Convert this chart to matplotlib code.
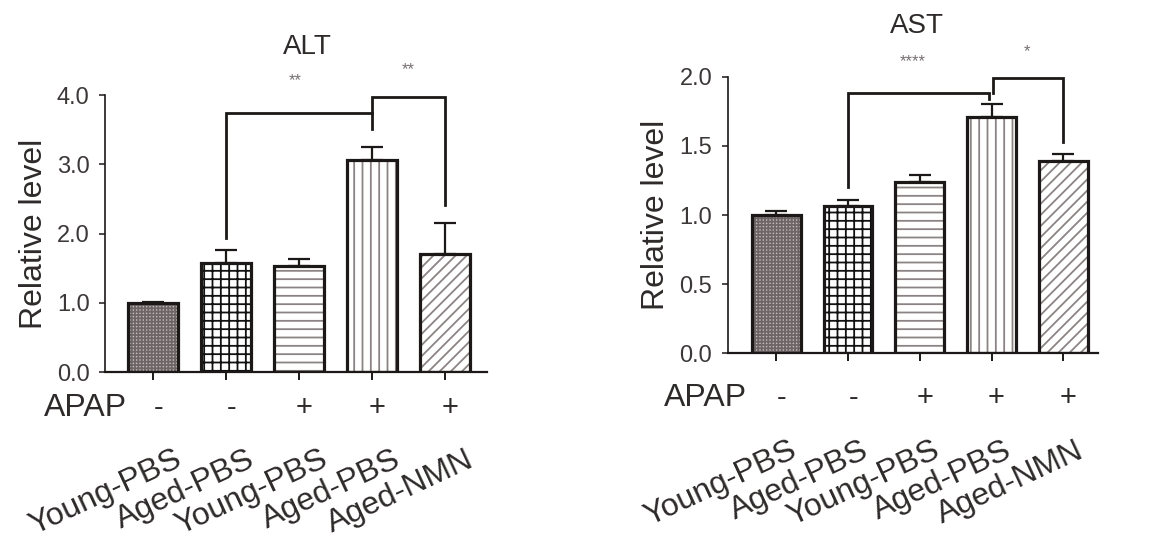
import matplotlib
matplotlib.use("Agg")
import matplotlib.pyplot as plt

plt.rcParams['font.family'] = ['Liberation Sans', 'DejaVu Sans']
plt.rcParams['hatch.linewidth'] = 1.3

groups = ['Young-PBS', 'Aged-PBS', 'Young-PBS', 'Aged-PBS', 'Aged-NMN']
apap = ['-', '-', '+', '+', '+']

alt_mean = [1.00, 1.58, 1.54, 3.07, 1.70]
alt_err = [0.01, 0.19, 0.09, 0.18, 0.45]

ast_mean = [1.00, 1.065, 1.24, 1.71, 1.39]
ast_err = [0.03, 0.045, 0.05, 0.09, 0.05]

# hatch per bar and the facecolor behind it
hatches = ['+++++', '++', '--', '||', '///']
faces = ['#c2bcbc', 'white', 'white', 'white', 'white']
hatch_cols = ['#6e6666', '#111111', '#8c8484', '#8c8484', '#8c8484']

# brackets: (x_left, y_left_bottom, y_top, x_right, y_right_bottom)
alt_brackets = [(1, 1.94, 3.75, 3, 3.51), (3, 3.75, 3.97, 4, 2.42)]
alt_stars = [(1.95, 4.21, '**'), (3.5, 4.37, '**')]
ast_brackets = [(1, 1.205, 1.88, 2.97, 1.84), (3.02, 1.88, 1.99, 4, 1.53)]
ast_stars = [(1.9, 2.11, '****'), (3.5, 2.18, '*')]

dark = '#1c1818'
txt = '#2e2a2a'

fig = plt.figure(figsize=(11.66, 5.41), dpi=100)
ax1 = fig.add_axes([0.090, 0.312, 0.328, 0.512])
ax2 = fig.add_axes([0.624, 0.347, 0.318, 0.511])


def panel(ax, means, errs, ylim, yticks, xlim, title, title_xy,
          brackets, stars, apap_y, apap_x, lab_dx, lab_y):
    x = list(range(len(means)))
    for i in x:
        ax.bar(i, means[i], width=0.68, color=faces[i], hatch=hatches[i],
               edgecolor=hatch_cols[i], linewidth=0, zorder=2)
        ax.bar(i, means[i], width=0.68, fill=False, edgecolor=dark,
               linewidth=2.3, zorder=3)
    ax.errorbar(x, means, yerr=[[0] * len(errs), errs], fmt='none',
                ecolor=dark, elinewidth=1.6, capsize=8, capthick=1.6,
                zorder=1)
    for xl, yl, yt, xr, yr in brackets:
        ax.plot([xl, xl, xr, xr], [yl, yt, yt, yr], color=dark, lw=2.0,
                clip_on=False, solid_joinstyle='miter')
    for sx, sy, s in stars:
        ax.text(sx, sy, s, ha='center', va='center', fontsize=12,
                color='#777070')
    ax.text(title_xy[0], title_xy[1], title, ha='center', va='center',
            fontsize=20, color=txt)

    ax.set_ylim(ylim)
    ax.set_xlim(xlim)
    ax.set_yticks(yticks)
    ax.set_yticklabels(['%.1f' % v for v in yticks])
    ax.set_xticks(x)
    ax.set_xticklabels([])
    ax.spines['top'].set_visible(False)
    ax.spines['right'].set_visible(False)
    ax.spines['left'].set_linewidth(1.2)
    ax.spines['bottom'].set_linewidth(1.6)
    ax.spines['left'].set_color(dark)
    ax.spines['bottom'].set_color(dark)
    ax.tick_params(axis='y', length=4, width=1.1, labelsize=17,
                   colors=dark, labelcolor='#3c3838', pad=7)
    ax.tick_params(axis='x', length=6, width=1.4, colors=dark)
    ax.set_ylabel('Relative level', fontsize=23, color=txt, labelpad=6)

    trans = ax.get_xaxis_transform()
    ax.text(apap_x, apap_y, 'APAP', transform=trans, ha='center',
            va='center', fontsize=23, color=txt)
    for i in x:
        ax.text(i + 0.07, apap_y, apap[i], transform=trans, ha='center',
                va='center', fontsize=21, color=txt)
        ax.text(i + lab_dx, lab_y, groups[i], transform=trans, ha='right',
                va='top', rotation=25, rotation_mode='anchor',
                fontsize=23, color=txt)


panel(ax1, alt_mean, alt_err, (0, 4.0), [0, 1, 2, 3, 4], (-0.66, 4.58),
      'ALT', (2.12, 4.69), alt_brackets, alt_stars,
      -0.130, -0.92, 0.28, -0.262)
panel(ax2, ast_mean, ast_err, (0, 2.0), [0, 0.5, 1.0, 1.5, 2.0],
      (-0.68, 4.49), 'AST', (1.96, 2.37), ast_brackets, ast_stars,
      -0.162, -0.99, 0.17, -0.298)

fig.savefig('out.png', dpi=100)
